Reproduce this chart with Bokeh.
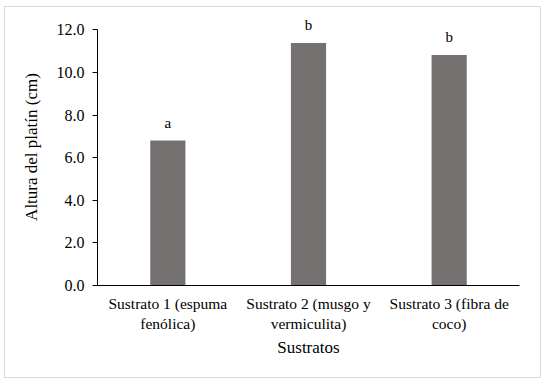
from bokeh.plotting import figure
from bokeh.models import FactorRange, Range1d, FixedTicker, NumeralTickFormatter, ColumnDataSource
from bokeh.core.properties import value
from bokeh.embed import file_html
from bokeh.resources import INLINE

categories = ["Sustrato 1 (espuma\nfenólica)", "Sustrato 2 (musgo y\nvermiculita)", "Sustrato 3 (fibra de\ncoco)"]
heights = [6.80, 11.38, 10.82]
letters = ["a", "b", "b"]
y_ticks = [0, 2, 4, 6, 8, 10, 12]

FONT = "Liberation Serif"

p = figure(x_range=FactorRange(factors=categories, range_padding=0), y_range=Range1d(0, 13),
           width=537, height=372, output_backend="svg", toolbar_location=None,
           min_border_left=92, min_border_right=23, min_border_top=1, min_border_bottom=94)
p.styles = {"border": "1px solid #d9d9d9", "box-sizing": "border-box",
            "margin-left": "4px", "margin-top": "6px"}

src = ColumnDataSource(dict(x=categories, top=heights, lab=letters))
p.vbar(x="x", top="top", width=0.25, source=src, fill_color="#767171", line_color=None)
p.text(x="x", y="top", text="lab", source=src, y_offset=-10, text_align="center",
       text_baseline="bottom", text_font=value(FONT), text_font_size="15px", text_color="black")

p.xgrid.grid_line_color = None
p.ygrid.grid_line_color = None
p.outline_line_color = None

ya = p.yaxis[0]
ya.ticker = FixedTicker(ticks=y_ticks)
ya.bounds = (0, 12)
ya.formatter = NumeralTickFormatter(format="0.0")
ya.major_tick_in = 0
ya.major_tick_out = 5
ya.minor_tick_line_color = None
ya.major_label_text_font = FONT
ya.major_label_text_font_size = "16px"
ya.major_label_text_color = "black"
ya.major_label_standoff = 8
ya.axis_label = "Altura del platín (cm)"
ya.axis_label_text_font = FONT
ya.axis_label_text_font_size = "17px"
ya.axis_label_text_font_style = "normal"
ya.axis_label_text_color = "black"
ya.axis_label_standoff = 13
ya.axis_line_color = "black"
ya.major_tick_line_color = "black"

xa = p.xaxis[0]
xa.major_tick_in = 0
xa.major_tick_out = 0
xa.major_tick_line_color = None
xa.minor_tick_line_color = None
xa.major_label_text_font = FONT
xa.major_label_text_font_size = "15.5px"
xa.major_label_text_color = "black"
xa.major_label_standoff = 9
xa.axis_label = "Sustratos"
xa.axis_label_text_font = FONT
xa.axis_label_text_font_size = "17px"
xa.axis_label_text_font_style = "normal"
xa.axis_label_text_color = "black"
xa.axis_label_standoff = 3
xa.axis_line_color = "black"

open("out.html", "w").write(file_html(p, INLINE))
